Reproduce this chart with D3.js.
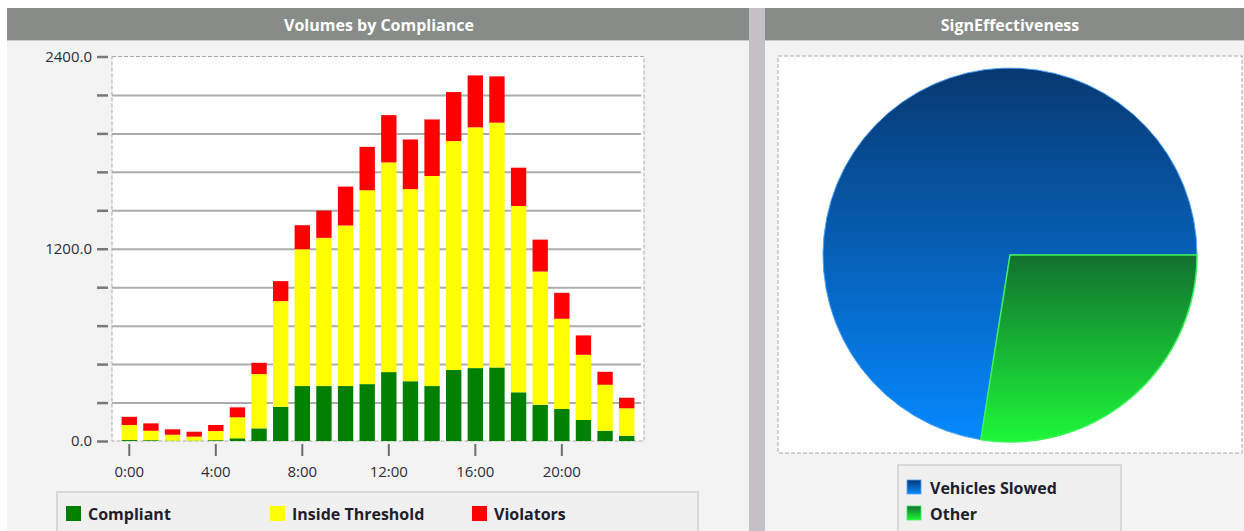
<!DOCTYPE html>
<html>
<head>
<meta charset="utf-8">
<script src="https://cdn.jsdelivr.net/npm/d3@7"></script>
<style>
  body { margin: 0; background: #fff; }
  svg { display: block; font-family: "Open Sans", "Noto Sans", sans-serif; }
</style>
</head>
<body>
<svg id="chart" width="1244" height="531"></svg>
<script>
/**********************************/
/****   Values off the screen  ****/
/**********************************/

var hours = [0, 1, 2, 3, 4, 5, 6, 7, 8, 9, 10, 11, 12, 13, 14, 15, 16, 17, 18, 19, 20, 21, 22, 23];
var compliant = [6, 5, 2, 2, 5, 17, 79, 214, 343, 343, 343, 355, 430, 373, 343, 443, 455, 459, 304, 226, 200, 131, 64, 33];
var insideThreshold = [94, 59, 37, 25, 57, 131, 339, 659, 854, 925, 1002, 1210, 1309, 1199, 1311, 1429, 1503, 1528, 1163, 832, 563, 407, 287, 171];
var violators = [51, 46, 34, 31, 38, 62, 70, 125, 150, 170, 243, 271, 295, 310, 353, 306, 324, 289, 239, 199, 162, 121, 81, 66];
var seriesNames = ["Compliant", "Inside Threshold", "Violators"];
var seriesColors = ["#008000", "#ffff00", "#ff0000"];

var xTickHours = [0, 4, 8, 12, 16, 20];
var yTicks = [0, 240, 480, 720, 960, 1200, 1440, 1680, 1920, 2160, 2400];
var yLabelled = [0, 1200, 2400];

var pieNames = ["Vehicles Slowed", "Other"];
var pieValues = [72.5, 27.5];

/**********************************/
/****      Panels + titles     ****/
/**********************************/

var svg = d3.select("#chart");
var defs = svg.append("defs");

// left panel, splitter, right panel
svg.append("rect").attr("x", 7).attr("y", 8).attr("width", 742).attr("height", 523).attr("fill", "#f3f3f3");
svg.append("rect").attr("x", 749).attr("y", 8).attr("width", 16).attr("height", 523).attr("fill", "#c3c1c6");
svg.append("rect").attr("x", 765).attr("y", 8).attr("width", 479).attr("height", 523).attr("fill", "#f3f3f3");

var headers = [
    { x: 7, w: 742, cx: 379, title: "Volumes by Compliance" },
    { x: 765, w: 479, cx: 1010, title: "SignEffectiveness" }
];
headers.forEach(h => {
    svg.append("rect").attr("x", h.x).attr("y", 8).attr("width", h.w).attr("height", 32).attr("fill", "#878c89");
    svg.append("rect").attr("x", h.x).attr("y", 40).attr("width", h.w).attr("height", 1).attr("fill", "#cacaca");
    svg.append("text")
        .attr("x", h.cx).attr("y", 25)
        .attr("text-anchor", "middle")
        .attr("dominant-baseline", "central")
        .attr("fill", "#fff")
        .attr("font-size", 16)
        .attr("font-weight", "bold")
        .text(h.title);
});

/**********************************/
/****   Stacked column chart   ****/
/**********************************/

var plot = { left: 112, right: 644, top: 56.5, bottom: 441 };

var rows = hours.map((h, i) => ({
    hour: h,
    "Compliant": compliant[i],
    "Inside Threshold": insideThreshold[i],
    "Violators": violators[i]
}));
var stacked = d3.stack().keys(seriesNames)(rows);

var x = d3.scaleBand()
    .domain(hours)
    .range([plot.left, plot.right])
    .paddingInner(0.29)
    .paddingOuter(0.445);

var y = d3.scaleLinear()
    .domain([0, 2400])
    .range([plot.bottom, plot.top]);

var color = d3.scaleOrdinal().domain(seriesNames).range(seriesColors);

// white plot area with dashed frame
svg.append("rect")
    .attr("x", plot.left).attr("y", plot.top)
    .attr("width", plot.right - plot.left).attr("height", plot.bottom - plot.top)
    .attr("fill", "#fff")
    .attr("stroke", "#a9a9a9")
    .attr("stroke-dasharray", "4,2");

// gridlines (not on the frame itself)
svg.append("g")
    .attr("transform", `translate(${plot.left},0)`)
    .call(d3.axisLeft(y).tickValues(yTicks.slice(1, -1)).tickSize(-(plot.right - plot.left - 3)).tickFormat(""))
    .call(g => g.select(".domain").remove())
    .call(g => g.selectAll(".tick line").attr("stroke", "#acacac").attr("stroke-width", 2));

svg.append("g")
    .selectAll("g")
    .data(stacked)
    .join("g")
    .attr("fill", d => color(d.key))
    .selectAll("rect")
    .data(d => d)
    .join("rect")
    .attr("x", d => x(d.data.hour))
    .attr("width", x.bandwidth())
    .attr("y", d => y(d[1]))
    .attr("height", d => y(d[0]) - y(d[1]));

// y axis: short dark ticks, labels every 1200
svg.append("g")
    .attr("transform", `translate(108,0)`)
    .call(d3.axisLeft(y)
        .tickValues(yTicks)
        .tickSize(11)
        .tickPadding(5)
        .tickFormat(d => yLabelled.includes(d) ? d3.format(".1f")(d) : ""))
    .call(g => g.select(".domain").remove())
    .call(g => g.selectAll(".tick line").attr("stroke", "#787878").attr("stroke-width", 2.5))
    .call(g => g.selectAll(".tick text")
        .attr("font-size", 15)
        .attr("font-family", "'Open Sans', sans-serif")
        .attr("fill", "#2d2d3a"));

// x axis (band scale already centres the ticks)
svg.append("g")
    .attr("transform", `translate(0,444)`)
    .call(d3.axisBottom(x)
        .tickValues(xTickHours)
        .tickSize(12)
        .tickPadding(10)
        .tickFormat(d => d + ":00"))
    .call(g => g.select(".domain").remove())
    .call(g => g.selectAll(".tick line").attr("stroke", "#6c6c6c").attr("stroke-width", 2))
    .call(g => g.selectAll(".tick text")
        .attr("font-size", 15)
        .attr("font-family", "'Open Sans', sans-serif")
        .attr("fill", "#2d2d3a"));

// legend
svg.append("rect")
    .attr("x", 57).attr("y", 492).attr("width", 641).attr("height", 45)
    .attr("fill", "#f0f0f0").attr("stroke", "#d8d8d8").attr("stroke-width", 2);

var legendX = [66, 270, 472];
var leg = svg.append("g")
    .selectAll("g")
    .data(seriesNames)
    .join("g")
    .attr("transform", (d, i) => `translate(${legendX[i]},506)`);
leg.append("rect").attr("width", 15).attr("height", 15).attr("fill", d => color(d));
leg.append("text")
    .attr("x", 22).attr("y", 7.5)
    .attr("dominant-baseline", "central")
    .attr("font-size", 16).attr("font-weight", "bold")
    .attr("fill", "#20202c")
    .text(d => d);

/**********************************/
/****         Pie chart        ****/
/**********************************/

var grads = [
    { id: "gBlue", top: "#073870", bottom: "#0589ff" },
    { id: "gGreen", top: "#127030", bottom: "#1df838" }
];
grads.forEach(g => {
    var lg = defs.append("linearGradient").attr("id", g.id)
        .attr("x1", 0).attr("y1", 0).attr("x2", 0).attr("y2", 1);
    lg.append("stop").attr("offset", "0%").attr("stop-color", g.top);
    lg.append("stop").attr("offset", "100%").attr("stop-color", g.bottom);
});
var pieFill = d3.scaleOrdinal().domain(pieNames).range(["url(#gBlue)", "url(#gGreen)"]);
var pieStroke = d3.scaleOrdinal().domain(pieNames).range(["#4aa2ff", "#3cf259"]);

svg.append("rect")
    .attr("x", 778).attr("y", 56).attr("width", 464).attr("height", 397)
    .attr("fill", "#fff")
    .attr("stroke", "#a9a9a9")
    .attr("stroke-dasharray", "4,2");

// starts at 3 o'clock, runs counter-clockwise
var pie = d3.pie()
    .sort(null)
    .value(d => d.value)
    .startAngle(Math.PI / 2)
    .endAngle(Math.PI / 2 - 2 * Math.PI);

var arc = d3.arc().innerRadius(0).outerRadius(187);

svg.append("g")
    .attr("transform", "translate(1010,255)")
    .selectAll("path")
    .data(pie(pieNames.map((n, i) => ({ name: n, value: pieValues[i] }))))
    .join("path")
    .attr("d", arc)
    .attr("fill", d => pieFill(d.data.name))
    .attr("stroke", d => pieStroke(d.data.name))
    .attr("stroke-width", d => d.data.name == "Other" ? 1.5 : 1);

// pie legend
svg.append("rect")
    .attr("x", 898).attr("y", 465).attr("width", 223).attr("height", 72)
    .attr("fill", "#f0f0f0").attr("stroke", "#d8d8d8").attr("stroke-width", 2);

var pleg = svg.append("g")
    .selectAll("g")
    .data(pieNames)
    .join("g")
    .attr("transform", (d, i) => `translate(907,${480 + i * 26})`);
pleg.append("rect").attr("width", 14).attr("height", 14)
    .attr("fill", d => pieFill(d)).attr("stroke", d => pieStroke(d)).attr("stroke-width", 0.8);
pleg.append("text")
    .attr("x", 23).attr("y", 7.5)
    .attr("dominant-baseline", "central")
    .attr("font-size", 16).attr("font-weight", "bold")
    .attr("fill", "#20202c")
    .text(d => d);
</script>
</body>
</html>
